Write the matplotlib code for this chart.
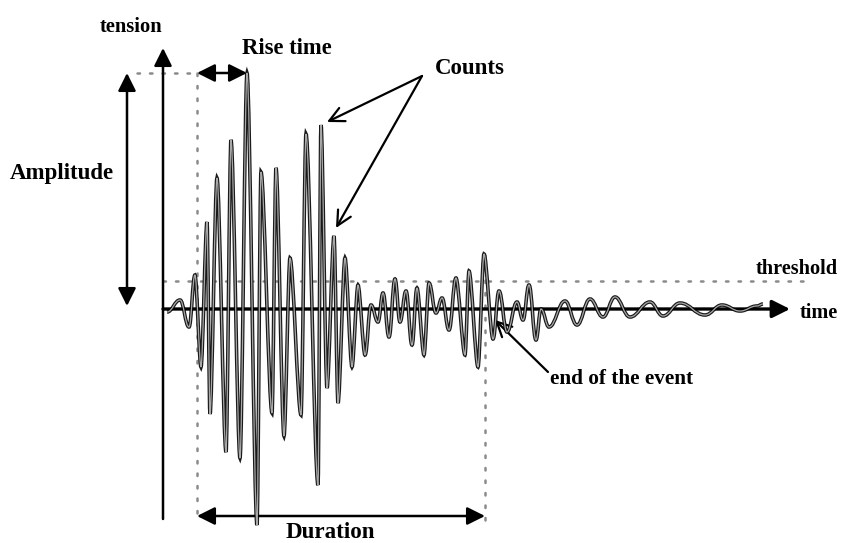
"""
Acoustic emission burst: amplitude, rise time, counts, duration, threshold.
"""

import matplotlib

matplotlib.use("Agg")
import matplotlib.pyplot as plt
from matplotlib.path import Path
from matplotlib.patches import PathPatch

# waveform extrema: time (arbitrary units), tension (arbitrary units)
wave_t = [4, 17, 26, 32, 38, 44, 47, 54, 63, 68, 77, 84, 94, 98, 109, 113, 121, 127,
          138, 143, 155, 158, 164, 171, 175, 182, 189, 195, 202, 208, 215, 220, 226,
          232, 237, 243, 249, 254, 261, 266, 273, 279, 286, 293, 302, 306, 315, 321,
          330, 336, 344, 354, 360, 366, 373, 378, 386, 402, 414, 427, 440, 452, 467,
          487, 500, 517, 542, 559, 577, 594, 600]
wave_a = [-3, 9, -18, 34, -58, 87, -105, 131, -143, 169, -149, 236, -216, 137, -104,
          141, -127, 51, -106, 175, -176, 184, -79, 73, -94, 51, -58, 24, -46, 4, -13,
          16, -28, 30, -13, 18, -36, 21, -46, 26, -4, 11, -21, 31, -46, 38, -58, 55,
          -30, 18, -23, 7, -11, 24, -31, 0, -18, 8, -16, 10, -8, 12, -8, 7, -7, 6, -6,
          4, -2, 3, 5]

threshold = 28
t_first = 34      # first threshold crossing
t_last = 322      # last threshold crossing (end of the event)
peak = max(wave_a)
t_peak = wave_t[wave_a.index(peak)]

FONT = dict(family="Liberation Serif", fontweight="bold", color="black")


def wave_path(ts, vs):
    verts = [(ts[0], vs[0])]
    codes = [Path.MOVETO]
    for (t0, v0), (t1, v1) in zip(zip(ts[:-1], vs[:-1]), zip(ts[1:], vs[1:])):
        # sharper spikes in the burst, smoother ringing in the tail
        k = 0.3 if abs(v1 - v0) > 60 else 0.42
        d = (t1 - t0) * k
        verts += [(t0 + d, v0), (t1 - d, v1), (t1, v1)]
        codes += [Path.CURVE4] * 3
    return Path(verts, codes)


def arrow(ax, start, end, style, lw=2.0, ms=18):
    ax.annotate("", xy=end, xytext=start,
                arrowprops=dict(arrowstyle=style, color="black", lw=lw,
                                mutation_scale=ms, shrinkA=0, shrinkB=0))


def main() -> None:
    fig = plt.figure(figsize=(8.43, 5.43), dpi=100)
    ax = fig.add_axes([0, 0, 1, 1])
    ax.set_xlim(-163, 680)
    ax.set_ylim(-234, 309)
    ax.axis("off")

    dot = dict(color="#8a8a8a", lw=1.8, linestyle=(0, (1, 4)), dash_capstyle="round")
    ax.plot([0, 650], [threshold, threshold], **dot)
    ax.plot([-26, t_first], [peak, peak], **dot)
    ax.plot([t_first, t_first], [peak, -211], **dot)
    ax.plot([t_last, t_last], [54, -211], **dot)

    # waveform: dark outline with lighter core
    path = wave_path(wave_t, wave_a)
    ax.add_patch(PathPatch(path, fill=False, ec="#1a1a1a", lw=2.6, zorder=3))
    ax.add_patch(PathPatch(path, fill=False, ec="#a8a8a8", lw=0.9, zorder=4))

    # axes
    head = "-|>,head_length=0.6,head_width=0.3"
    arrow(ax, (0, -210), (0, 261), head, lw=1.8)
    arrow(ax, (0, 0), (627, 0), head, lw=2.4)

    dbl = "<|-|>,head_length=0.6,head_width=0.3"
    arrow(ax, (-36, 3), (-36, peak), dbl, lw=1.8)
    arrow(ax, (t_first, peak), (t_peak, peak), dbl, lw=1.8)
    arrow(ax, (t_first, -207), (t_last, -207), dbl, lw=1.8)

    op = "->,head_length=0.7,head_width=0.35"
    arrow(ax, (259, 233), (164, 187), op, lw=1.6, ms=15)
    arrow(ax, (259, 233), (173, 81), op, lw=1.6, ms=15)
    arrow(ax, (385, -63), (332, -11), op, lw=1.6, ms=15)

    ax.text(-32, 282, "tension", ha="center", va="center", fontsize=14.8, **FONT)
    ax.text(124, 261, "Rise time", ha="center", va="center", fontsize=16.3, **FONT)
    ax.text(307, 241, "Counts", ha="center", va="center", fontsize=16.5, **FONT)
    ax.text(-101, 136, "Amplitude", ha="center", va="center", fontsize=16.5, **FONT)
    ax.text(634, 40, "threshold", ha="center", va="center", fontsize=14.6, **FONT)
    ax.text(656, -4, "time", ha="center", va="center", fontsize=14.6, **FONT)
    ax.text(459, -70, "end of the event", ha="center", va="center", fontsize=15.3, **FONT)
    ax.text(167, -224, "Duration", ha="center", va="center", fontsize=16.6, **FONT)

    fig.savefig("out.png", dpi=100, facecolor="white")


if __name__ == "__main__":
    main()
